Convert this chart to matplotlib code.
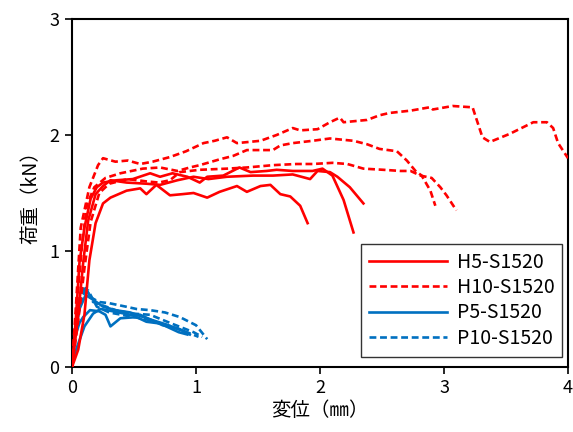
import matplotlib
matplotlib.use("Agg")
import matplotlib.pyplot as plt

plt.rcParams["font.family"] = ["Noto Sans CJK JP", "DejaVu Sans"]

# --- H5-S1520 (solid red), three specimens ---
h5_x = [
    [0, 0.05, 0.10, 0.14, 0.19, 0.25, 0.31, 0.44, 0.55, 0.60, 0.68, 0.79, 0.89, 0.98,
     1.09, 1.19, 1.33, 1.41, 1.52, 1.60, 1.68, 1.76, 1.84, 1.90],
    [0, 0.03, 0.06, 0.10, 0.15, 0.20, 0.25, 0.36, 0.49, 0.63, 0.71, 0.81, 0.93, 1.03,
     1.09, 1.22, 1.35, 1.44, 1.57, 1.65, 1.78, 1.86, 1.94, 2.02, 2.10, 2.19, 2.27],
    [0, 0.05, 0.09, 0.13, 0.19, 0.25, 0.31, 0.44, 0.60, 0.71, 0.85, 0.98, 1.10, 1.25,
     1.46, 1.62, 1.78, 1.92, 1.98, 2.08, 2.14, 2.24, 2.35],
]
h5_y = [
    [0, 0.15, 0.45, 0.92, 1.24, 1.41, 1.46, 1.52, 1.54, 1.49, 1.57, 1.48, 1.49, 1.50,
     1.46, 1.51, 1.56, 1.51, 1.56, 1.57, 1.49, 1.47, 1.39, 1.24],
    [0, 0.40, 0.90, 1.20, 1.45, 1.55, 1.59, 1.61, 1.62, 1.67, 1.64, 1.67, 1.64, 1.59,
     1.64, 1.65, 1.72, 1.68, 1.69, 1.70, 1.69, 1.69, 1.69, 1.71, 1.65, 1.44, 1.16],
    [0, 0.45, 0.90, 1.26, 1.49, 1.56, 1.61, 1.59, 1.58, 1.57, 1.61, 1.64, 1.62, 1.64,
     1.65, 1.65, 1.66, 1.62, 1.69, 1.68, 1.64, 1.55, 1.41],
]

# --- H10-S1520 (dashed red) ---
h10_x = [
    [0, 0.03, 0.07, 0.14, 0.21, 0.25, 0.35, 0.45, 0.55, 0.65, 0.79, 0.92, 1.06, 1.15,
     1.25, 1.33, 1.52, 1.65, 1.78, 1.84, 1.98, 2.08, 2.16, 2.19, 2.38, 2.48, 2.56,
     2.73, 2.89, 2.91, 3.07, 3.21, 3.23, 3.31, 3.37, 3.53, 3.72, 3.83, 3.88, 3.92, 4.0],
    [0, 0.04, 0.08, 0.12, 0.18, 0.27, 0.39, 0.57, 0.71, 0.85, 0.95, 1.03, 1.19, 1.30,
     1.41, 1.52, 1.62, 1.68, 1.78, 1.94, 2.08, 2.27, 2.38, 2.48, 2.62, 2.70, 2.77,
     2.82, 2.89, 2.93],
    [0, 0.05, 0.10, 0.15, 0.22, 0.30, 0.45, 0.60, 0.70, 0.79, 0.87, 1.03, 1.25, 1.41,
     1.62, 1.81, 1.94, 2.10, 2.22, 2.35, 2.51, 2.65, 2.73, 2.81, 2.90, 2.97, 3.02, 3.10],
]
h10_y = [
    [0, 0.50, 1.20, 1.55, 1.74, 1.80, 1.77, 1.78, 1.75, 1.77, 1.81, 1.86, 1.93, 1.95,
     1.98, 1.93, 1.95, 2.00, 2.06, 2.04, 2.05, 2.11, 2.15, 2.11, 2.13, 2.17, 2.19,
     2.21, 2.24, 2.22, 2.25, 2.24, 2.24, 1.98, 1.94, 2.01, 2.11, 2.11, 2.06, 1.93, 1.80],
    [0, 0.55, 1.05, 1.40, 1.55, 1.63, 1.67, 1.71, 1.72, 1.69, 1.72, 1.74, 1.79, 1.82,
     1.87, 1.87, 1.87, 1.91, 1.93, 1.95, 1.97, 1.95, 1.92, 1.88, 1.86, 1.78, 1.69,
     1.65, 1.52, 1.39],
    [0, 0.40, 0.85, 1.25, 1.50, 1.58, 1.62, 1.60, 1.59, 1.61, 1.68, 1.70, 1.71, 1.72,
     1.74, 1.75, 1.75, 1.76, 1.75, 1.71, 1.70, 1.69, 1.69, 1.65, 1.63, 1.55, 1.48, 1.35],
]

# --- P5-S1520 (solid blue) ---
p5_x = [
    [0, 0.01, 0.024, 0.06, 0.09, 0.145, 0.22, 0.27, 0.31, 0.39, 0.52, 0.60, 0.71, 0.86, 0.93],
    [0, 0.01, 0.04, 0.10, 0.17, 0.23, 0.33, 0.47, 0.55, 0.73, 0.86, 0.95],
    [0, 0.02, 0.06, 0.11, 0.17, 0.25, 0.35, 0.47, 0.60, 0.75, 0.90],
]
p5_y = [
    [0, 0.10, 0.26, 0.38, 0.43, 0.49, 0.48, 0.45, 0.35, 0.42, 0.43, 0.39, 0.375, 0.30, 0.28],
    [0, 0.08, 0.17, 0.35, 0.46, 0.50, 0.48, 0.45, 0.45, 0.36, 0.33, 0.28],
    [0, 0.25, 0.50, 0.62, 0.58, 0.52, 0.49, 0.47, 0.42, 0.37, 0.31],
]

# --- P10-S1520 (dashed blue) ---
p10_x = [
    [0, 0.02, 0.05, 0.10, 0.15, 0.22, 0.30, 0.435, 0.52, 0.63, 0.75, 0.87, 1.0, 1.09],
    [0, 0.02, 0.06, 0.11, 0.17, 0.25, 0.35, 0.49, 0.63, 0.79, 0.98, 1.05],
    [0, 0.03, 0.08, 0.13, 0.20, 0.30, 0.45, 0.60, 0.80, 0.95, 1.02],
]
p10_y = [
    [0, 0.30, 0.55, 0.70, 0.60, 0.56, 0.55, 0.52, 0.50, 0.49, 0.47, 0.43, 0.36, 0.24],
    [0, 0.25, 0.52, 0.68, 0.56, 0.53, 0.49, 0.46, 0.45, 0.38, 0.30, 0.26],
    [0, 0.35, 0.62, 0.66, 0.52, 0.47, 0.44, 0.41, 0.35, 0.29, 0.26],
]

RED = "#ff0000"
BLUE = "#0070c0"
DASH = (0, (2.6, 1.4))

fig = plt.figure(figsize=(5.73, 4.32), dpi=100)
ax = fig.add_axes([0.1257, 0.1505, 0.8656, 0.8055])

series = [
    ("H5-S1520", h5_x, h5_y, RED, "-", 3),
    ("H10-S1520", h10_x, h10_y, RED, DASH, 3),
    ("P5-S1520", p5_x, p5_y, BLUE, "-", 2),
    ("P10-S1520", p10_x, p10_y, BLUE, DASH, 2),
]
for name, xs, ys, color, ls, z in series:
    for i, (x, y) in enumerate(zip(xs, ys)):
        ax.plot(x, y, color=color, linestyle=ls, linewidth=1.9, zorder=z,
                label=name if i == 0 else None)

ax.set_xlim(0, 4)
ax.set_ylim(0, 3)
ax.set_xticks([0, 1, 2, 3, 4])
ax.set_yticks([0, 1, 2, 3])
ax.tick_params(direction="out", length=5, width=1.2, labelsize=13, pad=4)
for sp in ax.spines.values():
    sp.set_linewidth(1.5)

ax.set_xlabel("変位（㎜）", fontsize=14, labelpad=2)
ax.set_ylabel("荷重（kN）", fontsize=14, labelpad=6)

leg = ax.legend(loc="lower right", bbox_to_anchor=(0.988, 0.03), fontsize=14,
                frameon=True, fancybox=False, edgecolor="black", handlelength=4.0,
                borderpad=0.4, labelspacing=0.22, handletextpad=0.5,
                borderaxespad=0.0)
leg.get_frame().set_linewidth(1.0)

fig.savefig("out.png", dpi=100)
